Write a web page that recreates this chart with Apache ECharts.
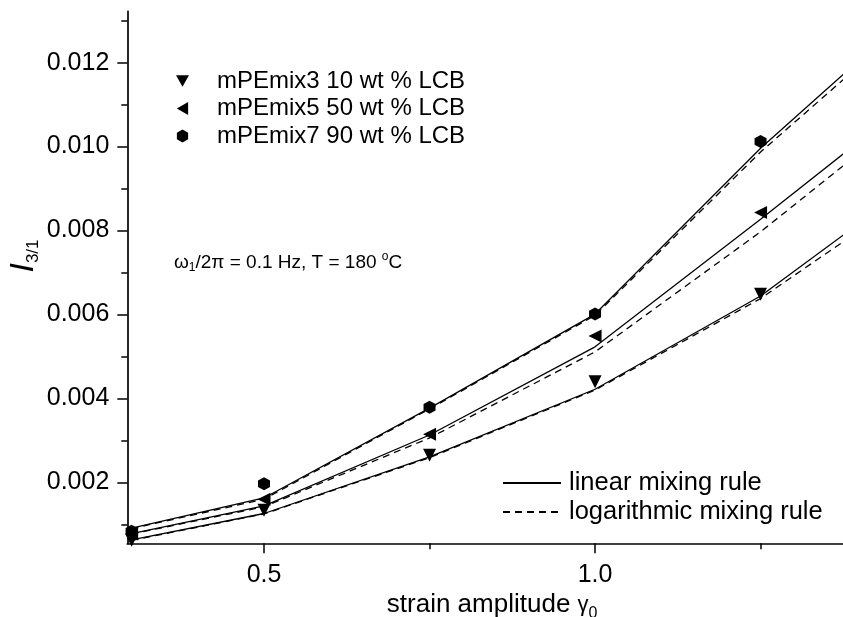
<!DOCTYPE html>
<html>
<head>
<meta charset="utf-8">
<script src="https://cdn.jsdelivr.net/npm/echarts@6/dist/echarts.min.js"></script>
<style>
html,body{margin:0;padding:0;background:#fff;}
#chart{width:843px;height:617px;}
</style>
</head>
<body>
<div id="chart"></div>
<script>
// ---- data ----
const xData = [0.3, 0.5, 0.75, 1.0, 1.25];
const xModel = [0.3, 0.5, 0.75, 1.0, 1.25, 1.5];
const mix3 = [0.00062, 0.00134, 0.00265, 0.00440, 0.00648];
const mix5 = [0.00077, 0.00160, 0.00315, 0.00549, 0.00843];
const mix7 = [0.00084, 0.00197, 0.00379, 0.00601, 0.01012];
const lin3 = [0.00063, 0.00126, 0.00261, 0.00422, 0.00644, 0.00935];
const log3 = [0.00062, 0.00125, 0.00259, 0.00420, 0.00638, 0.00909];
const lin5 = [0.00078, 0.00144, 0.00313, 0.00523, 0.00827, 0.01138];
const log5 = [0.00077, 0.00142, 0.00306, 0.00511, 0.00797, 0.01112];
const lin7 = [0.00091, 0.00163, 0.00377, 0.00601, 0.00996, 0.01348];
const log7 = [0.00090, 0.00160, 0.00375, 0.00598, 0.00987, 0.01332];
const seriesNames = ['mPEmix3 10 wt % LCB', 'mPEmix5 50 wt % LCB', 'mPEmix7 90 wt % LCB'];
const ruleNames = ['linear mixing rule', 'logarithmic mixing rule'];
const xMajorTicks = [0.5, 1.0];
const xMinorTicks = [0.75, 1.25];
const yMajorTicks = [0.002, 0.004, 0.006, 0.008, 0.010, 0.012];
const yMinorTicks = [0.001, 0.003, 0.005, 0.007, 0.009, 0.011, 0.013];

const FONT = '"Liberation Sans", Arial, Helvetica, sans-serif';
const pairs = (xs, ys) => ys.map((v, i) => [xs[i], v]);
const HEX = 'path://M0,-1 L0.866,-0.5 L0.866,0.5 L0,1 L-0.866,0.5 L-0.866,-0.5 Z';
const DOWN = 'path://M0,0 L2,0 L1,1.732 Z';
const LEFT = 'path://M0,1 L1.732,0 L1.732,2 Z';
const legendIcons = [DOWN, LEFT, HEX];

const XMIN = 0.2935, XMAX = 1.3745, YMIN = 0.00055, YMAX = 0.01322;

const chart = echarts.init(document.getElementById('chart'), null, {renderer: 'canvas'});

function lineSeries(name, data, dashed) {
  return {
    name: name, type: 'line', data: pairs(xModel, data),
    symbol: 'none', clip: true, silent: true,
    lineStyle: {color: '#000', width: 1.3, type: dashed ? [7, 5] : 'solid'},
    itemStyle: {color: '#000'},
    z: 2
  };
}
function scatterSeries(name, data, symbol, rotate, size) {
  return {
    name: name, type: 'scatter', data: pairs(xData, data),
    symbol: symbol, symbolRotate: rotate, symbolSize: size,
    itemStyle: {color: '#000', opacity: 1}, clip: true, z: 3
  };
}

const option = {
  animation: false,
  backgroundColor: '#fff',
  textStyle: {fontFamily: FONT, color: '#000'},
  grid: {left: 127.3, right: 0, top: 11.4, bottom: 73.7, containLabel: false, outerBoundsMode: 'none'},
  xAxis: [{
    type: 'value', min: XMIN, max: XMAX, position: 'bottom',
    axisLine: {show: true, lineStyle: {color: '#000', width: 1.7}},
    axisTick: {show: true, customValues: xMajorTicks, length: 10, inside: false, lineStyle: {color: '#000', width: 1.5}},
    axisLabel: {show: true, customValues: xMajorTicks, formatter: v => v.toFixed(1), fontSize: 25, color: '#000', fontFamily: FONT, margin: 19},
    splitLine: {show: false},
    name: '{t|strain amplitude }{g|γ}{s|0}',
    nameLocation: 'middle', nameGap: 36,
    nameTextStyle: {
      rich: {
        t: {fontSize: 26, fontFamily: FONT, color: '#000', padding: [0, 0, 0, 14]},
        g: {fontSize: 22, fontFamily: FONT, color: '#000'},
        s: {fontSize: 16, fontFamily: FONT, color: '#000', padding: [16, 0, 0, 0]}
      }
    }
  }, {
    type: 'value', min: XMIN, max: XMAX, position: 'bottom',
    axisLine: {show: false},
    axisTick: {show: true, customValues: xMinorTicks, length: 6, lineStyle: {color: '#000', width: 1.5}},
    axisLabel: {show: false},
    splitLine: {show: false}
  }],
  yAxis: [{
    type: 'value', min: YMIN, max: YMAX, position: 'left',
    axisLine: {show: true, lineStyle: {color: '#000', width: 1.7}},
    axisTick: {show: true, customValues: yMajorTicks, length: 10, lineStyle: {color: '#000', width: 1.5}},
    axisLabel: {show: true, customValues: yMajorTicks, formatter: v => v.toFixed(3), fontSize: 25, color: '#000', fontFamily: FONT, margin: 18},
    splitLine: {show: false}
  }, {
    type: 'value', min: YMIN, max: YMAX, position: 'left',
    axisLine: {show: false},
    axisTick: {show: true, customValues: yMinorTicks, length: 6, lineStyle: {color: '#000', width: 1.5}},
    axisLabel: {show: false},
    splitLine: {show: false}
  }],
  legend: [{
    orient: 'vertical', left: 176, top: 69, padding: 0,
    itemWidth: 13, itemHeight: 13, itemGap: 3.5,
    data: seriesNames.map((n, i) => ({name: n, icon: legendIcons[i]})),
    itemStyle: {color: '#000', opacity: 1},
    textStyle: {fontSize: 24, fontFamily: FONT, color: '#000', padding: [0, 0, 0, 23]},
    selectedMode: false
  }, {
    orient: 'vertical', left: 502, top: 470, padding: 0,
    itemWidth: 58, itemHeight: 14, itemGap: 3,
    data: ruleNames,
    itemStyle: {opacity: 0},
    textStyle: {fontSize: 25.5, fontFamily: FONT, color: '#000', padding: [0, 0, 0, 3]},
    selectedMode: false
  }],
  graphic: [{
    type: 'text', x: 24, y: 256, rotation: Math.PI / 2,
    style: {
      text: '{i|I}{s|3/1}',
      align: 'center', verticalAlign: 'middle',
      rich: {
        i: {fontSize: 34, fontStyle: 'italic', fontFamily: FONT, fill: '#000'},
        s: {fontSize: 17, fontFamily: FONT, fill: '#000', padding: [18, 0, 0, 0]}
      }
    }
  }, {
    type: 'text', left: 174, top: 251,
    style: {
      text: '{t|ω}{s|1}{t|/2π = 0.1 Hz, T = 180 }{o|o}{t|C}',
      rich: {
        t: {fontSize: 19, fontFamily: FONT, fill: '#000'},
        s: {fontSize: 12, fontFamily: FONT, fill: '#000', padding: [11, 0, 0, 0]},
        o: {fontSize: 12, fontFamily: FONT, fill: '#000', padding: [0, 0, 11, 0]}
      }
    }
  }],
  series: [
    lineSeries(ruleNames[0], lin3, false),
    lineSeries(ruleNames[1], log3, true),
    lineSeries(ruleNames[0], lin5, false),
    lineSeries(ruleNames[1], log5, true),
    lineSeries(ruleNames[0], lin7, false),
    lineSeries(ruleNames[1], log7, true),
    scatterSeries(seriesNames[0], mix3, 'triangle', 180, 13),
    scatterSeries(seriesNames[1], mix5, 'triangle', 90, 13),
    scatterSeries(seriesNames[2], mix7, HEX, 0, [12, 13])
  ]
};
chart.setOption(option);
</script>
</body>
</html>
